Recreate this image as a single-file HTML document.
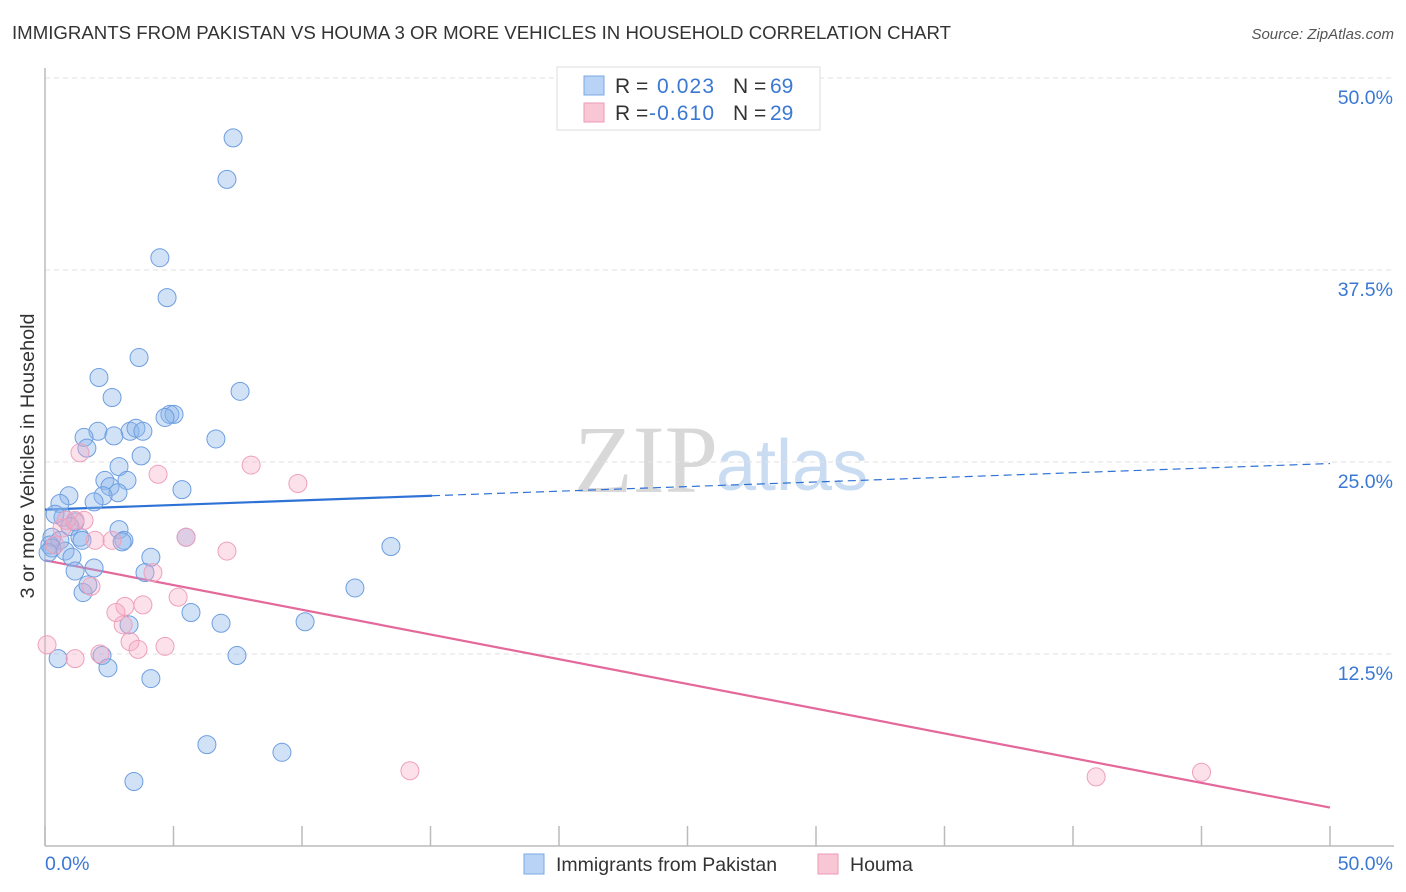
<!DOCTYPE html>
<html><head><meta charset="utf-8"><style>
body{margin:0;background:#fff;font-family:"Liberation Sans",sans-serif;}
svg{display:block}
</style></head><body>
<svg id="chart" width="1406" height="892" xmlns="http://www.w3.org/2000/svg">
<text x="12" y="39" font-size="18" fill="#333" textLength="939" lengthAdjust="spacingAndGlyphs">IMMIGRANTS FROM PAKISTAN VS HOUMA 3 OR MORE VEHICLES IN HOUSEHOLD CORRELATION CHART</text>
<text x="1394" y="39" font-size="15" fill="#555" font-style="italic" text-anchor="end">Source: ZipAtlas.com</text>
<text x="718" y="492" font-size="96" fill="#d8d8d8" font-family="Liberation Serif,serif" text-anchor="end">ZIP</text>
<text x="716" y="490" font-size="72" fill="#c9dcf2">atlas</text>
<text transform="translate(34,456) rotate(-90)" font-size="19" fill="#333" text-anchor="middle" textLength="285" lengthAdjust="spacingAndGlyphs">3 or more Vehicles in Household</text>
<g id="grid"></g><g id="axes"></g><g id="lines"></g><g id="pts"></g>
<g>
<rect x="557" y="67" width="263" height="63" fill="#fff" stroke="#ddd"/>
<rect x="584" y="76" width="20" height="19" fill="#b8d3f5" stroke="#7aa7e3"/>
<rect x="584" y="103" width="20" height="19" fill="#f9c6d6" stroke="#ee9ab6"/>
<text x="615" y="93" font-size="21" fill="#333">R =</text><text x="657" y="93" font-size="21" fill="#3a78d4" textLength="57">0.023</text>
<text x="733" y="93" font-size="21" fill="#333">N =</text><text x="770" y="93" font-size="21" fill="#3a78d4">69</text>
<text x="615" y="120" font-size="21" fill="#333">R =</text><text x="649" y="120" font-size="21" fill="#3a78d4" textLength="65">-0.610</text>
<text x="733" y="120" font-size="21" fill="#333">N =</text><text x="770" y="120" font-size="21" fill="#3a78d4">29</text>
</g>
<g>
<rect x="524" y="854" width="20" height="20" fill="#b8d3f5" stroke="#7aa7e3"/>
<text x="556" y="871" font-size="19.5" fill="#333">Immigrants from Pakistan</text>
<rect x="818" y="854" width="20" height="20" fill="#f9c6d6" stroke="#ee9ab6"/>
<text x="850" y="871" font-size="19.5" fill="#333">Houma</text>
</g>
</svg>
<script>
const blueX=[7.32,7.08,4.47,4.75,3.66,2.10,2.61,7.59,4.86,5.02,4.67,2.06,1.52,3.31,3.54,3.81,2.68,6.65,1.63,3.74,2.88,2.33,3.19,2.53,2.84,5.33,0.93,0.58,2.26,1.91,0.70,0.39,1.17,0.97,2.88,0.27,0.58,1.36,1.44,3.07,3.0,5.49,0.19,0.27,0.12,0.78,1.05,1.91,1.17,4.12,3.89,1.48,1.67,12.06,13.46,5.68,10.12,6.85,3.27,2.22,0.51,7.47,2.45,4.12,6.30,9.22,3.46];
const blueY=[46.1,43.4,38.3,35.7,31.8,30.5,29.2,29.6,28.1,28.1,27.9,27.0,26.6,27.0,27.2,27.0,26.7,26.5,25.9,25.4,24.7,23.8,23.8,23.4,23.0,23.2,22.8,22.3,22.8,22.4,21.4,21.6,21.1,20.8,20.6,20.1,19.9,20.1,19.9,19.9,19.8,20.1,19.6,19.4,19.1,19.2,18.8,18.1,17.9,18.8,17.8,16.5,17.0,16.8,19.5,15.2,14.6,14.5,14.4,12.4,12.2,12.4,11.6,10.9,6.6,6.1,4.2];
const pinkX=[0.08,1.36,4.40,8.02,9.84,1.17,1.52,0.66,0.82,1.95,2.61,5.49,7.08,4.20,5.18,3.11,3.81,2.76,3.04,3.31,3.62,4.67,2.14,1.17,1.79,14.2,40.9,45.0,0.39];
const pinkY=[13.1,25.6,24.2,24.8,23.6,21.2,21.2,20.7,21.2,19.9,19.9,20.1,19.2,17.8,16.2,15.6,15.7,15.2,14.4,13.3,12.8,13.0,12.5,12.2,16.9,4.9,4.5,4.8,19.6];
const blueTrend=[21.9,24.9];
const pinkTrend=[18.6,2.5];
const yTicks=[12.5,25.0,37.5,50.0];
const xTicks=[0,5,10,15,20,25,30,35,40,45,50];

const NS="http://www.w3.org/2000/svg";
const sx=v=>45+v/50*1285;
const sy=v=>846-v/50*768;
function mk(tag,attrs,parent){const e=document.createElementNS(NS,tag);for(const k in attrs)e.setAttribute(k,attrs[k]);document.getElementById(parent).appendChild(e);return e;}
yTicks.forEach(t=>{
  const l=mk('line',{x1:45,x2:1394,y1:sy(t),y2:sy(t),stroke:'#e2e2e2','stroke-dasharray':'5,4'},'grid');
  
  
  const tx=mk('text',{x:1393,y:sy(t)+26,'font-size':19.5,fill:'#3a78d4','text-anchor':'end'},'grid');
  tx.textContent=t.toFixed(1)+'%';
  
  
});
let a=mk('line',{x1:45,x2:45,y1:68,y2:846,stroke:'#bbb','stroke-width':1.5},'axes');


a=mk('line',{x1:45,x2:1394,y1:846,y2:846,stroke:'#bbb','stroke-width':1.5},'axes');


xTicks.forEach(t=>{
  const l=mk('line',{x1:sx(t),x2:sx(t),y1:826,y2:846,stroke:'#bbb','stroke-width':1.5},'axes');
  
  
});
[[0,'start',45],[50,'end',1393]].forEach(([v,anc,x])=>{
  const tx=mk('text',{x:x,y:870,'font-size':19.5,fill:'#3a78d4','text-anchor':anc},'axes');
  tx.textContent=v.toFixed(1)+'%';
  
  
});
blueX.forEach((x,i)=>{
  const c=mk('circle',{cx:sx(x),cy:sy(blueY[i]),r:9,fill:'rgba(140,182,235,0.4)',stroke:'#6d9ee0','stroke-width':1},'pts');
  
  
});
pinkX.forEach((x,i)=>{
  const c=mk('circle',{cx:sx(x),cy:sy(pinkY[i]),r:9,fill:'rgba(245,170,196,0.35)',stroke:'#eea0bb','stroke-width':1},'pts');
  
  
});
const bAt=x=>blueTrend[0]+(blueTrend[1]-blueTrend[0])*x/50;
const solidEnd=Math.max(...blueX)+1.6;
let l=mk('line',{x1:sx(0),y1:sy(bAt(0)),x2:sx(solidEnd),y2:sy(bAt(solidEnd)),stroke:'#2f72d6','stroke-width':2.2},'lines');


l=mk('line',{x1:sx(solidEnd),y1:sy(bAt(solidEnd)),x2:sx(50),y2:sy(bAt(50)),stroke:'#2f72d6','stroke-width':1.2,'stroke-dasharray':'8,5'},'lines');


l=mk('line',{x1:sx(0),y1:sy(pinkTrend[0]),x2:sx(50),y2:sy(pinkTrend[1]),stroke:'#e4689a','stroke-width':2.2},'lines');


</script>
</body></html>
